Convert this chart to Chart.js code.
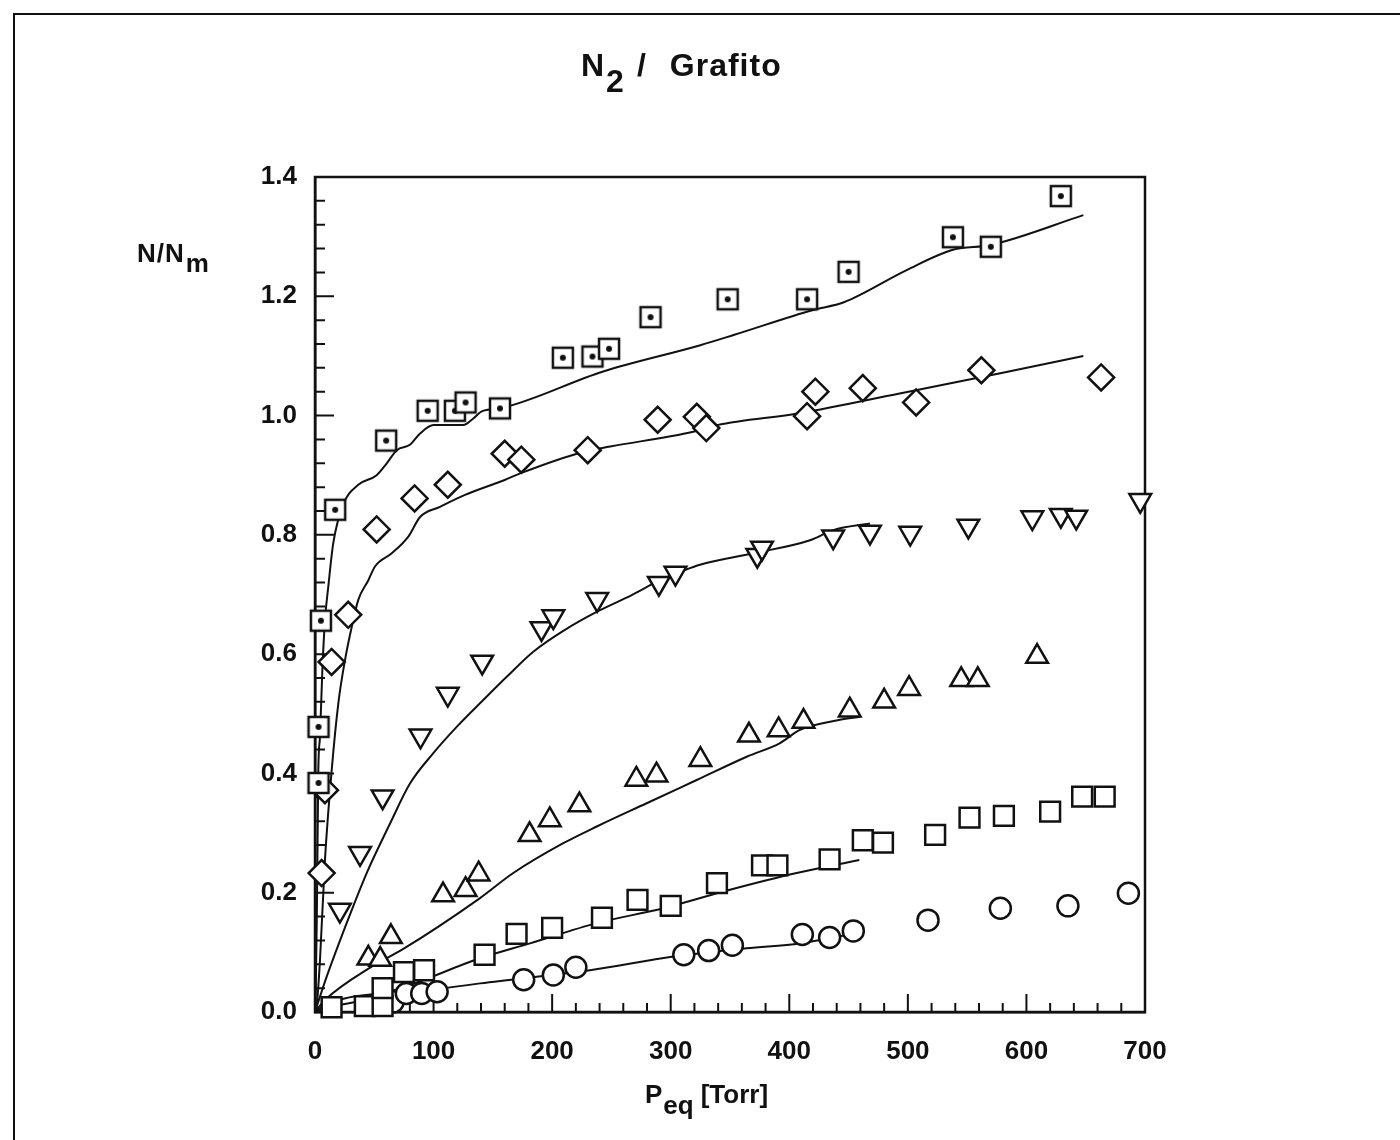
<!DOCTYPE html>
<html>
<head>
<meta charset="utf-8">
<title>N2 / Grafito</title>
<script src="https://cdn.jsdelivr.net/npm/chart.js@4.4.1/dist/chart.umd.min.js"></script>
<style>
  html, body { margin: 0; padding: 0; background: #fff; }
  #wrap { position: relative; width: 1400px; height: 1140px; overflow: hidden; }
  #frame { position: absolute; left: 13px; top: 13px; width: 1420px; height: 1160px; border: 2px solid #111; }
  canvas { position: absolute; left: 0; top: 0; }
  .lbl { position: absolute; font-family: "Liberation Sans", Arial, sans-serif; font-weight: bold; color: #111; white-space: nowrap; line-height: 1; }
  .lbl span { display: inline-block; }
  .sub { position: relative; }
</style>
</head>
<body>
<div id="wrap">
  <div id="frame"></div>
  <canvas id="grafico" width="1400" height="1140"></canvas>
  <div class="lbl" id="titulo" style="left:581px; top:49px; font-size:32px;">
    <span>N</span><span class="sub" style="top:16px; margin-left:2px;">2</span><span style="margin-left:13px;">/</span><span style="margin-left:24px; letter-spacing:1px;">Grafito</span>
  </div>
  <div class="lbl" id="ejeY" style="left:137px; top:240px; font-size:26px; letter-spacing:1px;">
    <span>N/N</span><span class="sub" style="top:10px; margin-left:1px;">m</span>
  </div>
  <div class="lbl" id="ejeX" style="left:645px; top:1081px; font-size:26px;">
    <span>P</span><span class="sub" style="top:11px; margin-left:1px;">eq</span><span style="margin-left:7px;">[Torr]</span>
  </div>
</div>
<script>
// presion de equilibrio [Torr] y cubrimiento N/Nm de cada isoterma
const dotSquareP = [3, 3, 5, 17, 60, 95, 118, 127, 156, 209, 234, 248, 283, 348, 415, 450, 538, 570, 629];
const dotSquareN = [0.384, 0.478, 0.656, 0.842, 0.958, 1.008, 1.008, 1.022, 1.012, 1.097, 1.099, 1.112, 1.165, 1.195, 1.195, 1.241, 1.299, 1.283, 1.368];

const diamondP = [5.6, 8.4, 14, 28, 52, 84, 112, 160, 174, 230, 289, 322, 330, 415, 422, 462, 507, 562, 663];
const diamondN = [0.233, 0.372, 0.587, 0.666, 0.809, 0.861, 0.884, 0.936, 0.926, 0.942, 0.993, 0.998, 0.979, 0.999, 1.040, 1.046, 1.022, 1.076, 1.064];

const downTriP = [21, 38, 57, 89, 112, 141, 191, 201, 238, 290, 304, 373, 377, 437, 468, 502, 551, 605, 629, 642, 696];
const downTriN = [0.171, 0.266, 0.361, 0.463, 0.533, 0.587, 0.643, 0.663, 0.692, 0.719, 0.736, 0.766, 0.778, 0.797, 0.805, 0.803, 0.815, 0.829, 0.833, 0.830, 0.858];

const upTriP = [45, 55, 64, 108, 127, 138, 181, 198, 223, 271, 288, 325, 366, 391, 412, 451, 480, 501, 545, 559, 609];
const upTriN = [0.090, 0.088, 0.126, 0.196, 0.205, 0.231, 0.297, 0.322, 0.347, 0.390, 0.397, 0.423, 0.464, 0.473, 0.487, 0.506, 0.521, 0.542, 0.557, 0.557, 0.596];

const squareP = [14, 42, 57, 57, 75, 92, 143, 170, 200, 242, 272, 300, 339, 377, 390, 434, 462, 479, 523, 552, 581, 620, 647, 666];
const squareN = [0.008, 0.010, 0.010, 0.040, 0.067, 0.070, 0.096, 0.131, 0.141, 0.158, 0.188, 0.178, 0.216, 0.246, 0.246, 0.256, 0.288, 0.284, 0.297, 0.326, 0.329, 0.336, 0.361, 0.361];

const circleP = [66, 77, 90, 103, 176, 201, 220, 311, 332, 352, 411, 434, 454, 517, 578, 635, 686];
const circleN = [0.017, 0.031, 0.031, 0.034, 0.054, 0.062, 0.075, 0.096, 0.103, 0.112, 0.130, 0.125, 0.136, 0.154, 0.174, 0.178, 0.199];

// curvas de ajuste
const fitDotSquareP = [0, 0.4, 1.7, 2.8, 4.2, 6.2, 8.4, 11.2, 15.4, 23.6, 36.5, 52, 60.5, 69, 80, 88.6, 100, 125, 133.5, 140.6, 156, 243, 325, 353, 420, 446, 499, 538, 570, 648];
const fitDotSquareN = [0, 0.007, 0.188, 0.406, 0.462, 0.573, 0.657, 0.713, 0.786, 0.850, 0.884, 0.900, 0.920, 0.942, 0.951, 0.970, 0.984, 0.984, 0.995, 1.007, 1.012, 1.074, 1.118, 1.135, 1.177, 1.190, 1.244, 1.278, 1.286, 1.336];

const fitDiamondP = [0, 1.4, 4.2, 8.4, 14.1, 19.7, 25.3, 31, 36.5, 45, 50.6, 64.7, 78.7, 88.6, 105.4, 126.5, 160, 173, 226, 249, 319, 339, 409, 493, 578, 648];
const fitDiamondN = [0, 0.009, 0.087, 0.255, 0.406, 0.518, 0.590, 0.646, 0.691, 0.724, 0.747, 0.769, 0.797, 0.830, 0.847, 0.867, 0.892, 0.903, 0.939, 0.948, 0.973, 0.984, 1.004, 1.037, 1.071, 1.100];

const fitDownTriP = [0, 8.4, 26.7, 43.6, 63.3, 80.1, 99.8, 119.5, 141.9, 161.7, 184.1, 209.4, 238.7, 267.1, 291, 310.6, 324.7, 369.7, 417.5, 437.1, 468];
const fitDownTriN = [0, 0.051, 0.149, 0.233, 0.316, 0.383, 0.434, 0.478, 0.523, 0.562, 0.604, 0.639, 0.672, 0.699, 0.724, 0.740, 0.750, 0.769, 0.791, 0.808, 0.819];

const fitUpTriP = [0, 8.4, 47.8, 73.1, 139.2, 167.2, 209.4, 237.6, 279.7, 321.9, 364.1, 392.2, 409, 442.8, 459.6];
const fitUpTriN = [0, 0.020, 0.076, 0.104, 0.191, 0.233, 0.283, 0.311, 0.350, 0.389, 0.428, 0.451, 0.473, 0.490, 0.495];

const fitSquareP = [0, 8.4, 67.5, 139.2, 181.3, 237.6, 293.8, 350, 406.2, 459.1];
const fitSquareN = [0, 0.012, 0.037, 0.090, 0.115, 0.149, 0.174, 0.205, 0.233, 0.255];

const fitCircleP = [0, 8.4, 71.7, 139.2, 231.9, 302.2, 364.1, 409, 448.4];
const fitCircleN = [0, 0.006, 0.029, 0.048, 0.070, 0.093, 0.107, 0.115, 0.129];

// ejes
const pMin = 0, pMax = 700, pStep = 100, pMinorStep = 20;
const nMin = 0, nMax = 1.4, nStep = 0.2, nMinorStep = 0.04;

const fuente = '"Liberation Sans", Arial, sans-serif';

function pares(xs, ys) {
    return xs.map((x, i) => ({ x: x, y: ys[i] }));
}

// cuadrado con punto central
function cuadradoPunteado() {
    const c = document.createElement('canvas');
    c.width = 26; c.height = 26;
    const g = c.getContext('2d');
    g.fillStyle = '#fff';
    g.fillRect(3, 3, 20, 20);
    g.strokeStyle = '#111';
    g.lineWidth = 2.5;
    g.strokeRect(3, 3, 20, 20);
    g.fillStyle = '#111';
    g.beginPath();
    g.arc(13, 13, 3, 0, Math.PI * 2);
    g.fill();
    return c;
}

function serie(xs, ys, estilo, radio, rot) {
    return {
        type: 'scatter',
        data: pares(xs, ys),
        pointStyle: estilo,
        pointRadius: radio,
        pointRotation: rot || 0,
        pointBorderWidth: 2.5,
        borderColor: '#111',
        backgroundColor: '#fff',
        pointBackgroundColor: '#fff',
        pointBorderColor: '#111',
        showLine: false,
        clip: false,
        order: 1
    };
}

function ajuste(xs, ys) {
    return {
        type: 'line',
        data: pares(xs, ys),
        borderColor: '#111',
        borderWidth: 2,
        pointRadius: 0,
        fill: false,
        tension: 0,
        cubicInterpolationMode: 'monotone',
        order: 2
    };
}

// ticks hacia adentro y marco del area de grafico
const marcoYTicks = {
    id: 'marcoYTicks',
    beforeDatasetsDraw(chart) {
        const { ctx, chartArea, scales } = chart;
        const x = scales.x, y = scales.y;
        ctx.save();
        ctx.strokeStyle = '#111';
        ctx.lineWidth = 2;
        ctx.beginPath();
        const nx = Math.round((pMax - pMin) / pMinorStep);
        for (let i = 0; i <= nx; i++) {
            const px = x.getPixelForValue(pMin + i * pMinorStep);
            const largo = (i * pMinorStep) % pStep === 0 ? 18 : 9;
            ctx.moveTo(px, chartArea.bottom);
            ctx.lineTo(px, chartArea.bottom - largo);
        }
        const ny = Math.round((nMax - nMin) / nMinorStep);
        const cada = Math.round(nStep / nMinorStep);
        for (let i = 0; i <= ny; i++) {
            const py = y.getPixelForValue(nMin + i * nMinorStep);
            const largo = i % cada === 0 ? 19 : 10;
            ctx.moveTo(chartArea.left, py);
            ctx.lineTo(chartArea.left + largo, py);
        }
        ctx.stroke();
        ctx.lineWidth = 2.5;
        ctx.strokeRect(chartArea.left, chartArea.top, chartArea.right - chartArea.left, chartArea.bottom - chartArea.top);
        ctx.restore();
    }
};

new Chart(document.getElementById('grafico'), {
    type: 'scatter',
    data: {
        datasets: [
            serie(dotSquareP, dotSquareN, cuadradoPunteado(), 11),
            serie(diamondP, diamondN, 'rectRot', 13),
            serie(downTriP, downTriN, 'triangle', 12.5, 180),
            serie(upTriP, upTriN, 'triangle', 12.5),
            serie(squareP, squareN, 'rect', 14),
            serie(circleP, circleN, 'circle', 10.5),
            ajuste(fitDotSquareP, fitDotSquareN),
            ajuste(fitDiamondP, fitDiamondN),
            ajuste(fitDownTriP, fitDownTriN),
            ajuste(fitUpTriP, fitUpTriN),
            ajuste(fitSquareP, fitSquareN),
            ajuste(fitCircleP, fitCircleN)
        ]
    },
    options: {
        responsive: false,
        animation: false,
        events: [],
        layout: { padding: { top: 177, right: 255, left: 0, bottom: 0 } },
        plugins: { legend: { display: false }, tooltip: { enabled: false }, title: { display: false } },
        scales: {
            x: {
                type: 'linear',
                min: pMin, max: pMax,
                grid: { display: false, drawTicks: false },
                border: { display: true, color: '#111', width: 2.5 },
                ticks: {
                    stepSize: pStep,
                    padding: 24,
                    color: '#111',
                    font: { family: fuente, size: 26, weight: 'bold' },
                    callback: v => String(Math.round(v))
                },
                afterFit: s => { s.height = 128; }
            },
            y: {
                type: 'linear',
                min: nMin, max: nMax,
                grid: { display: false, drawTicks: false },
                border: { display: true, color: '#111', width: 2.5 },
                ticks: {
                    stepSize: nStep,
                    padding: 18,
                    color: '#111',
                    font: { family: fuente, size: 26, weight: 'bold' },
                    callback: v => Number(v).toFixed(1)
                },
                afterFit: s => { s.width = 315; }
            }
        }
    },
    plugins: [marcoYTicks]
});
</script>
</body>
</html>
